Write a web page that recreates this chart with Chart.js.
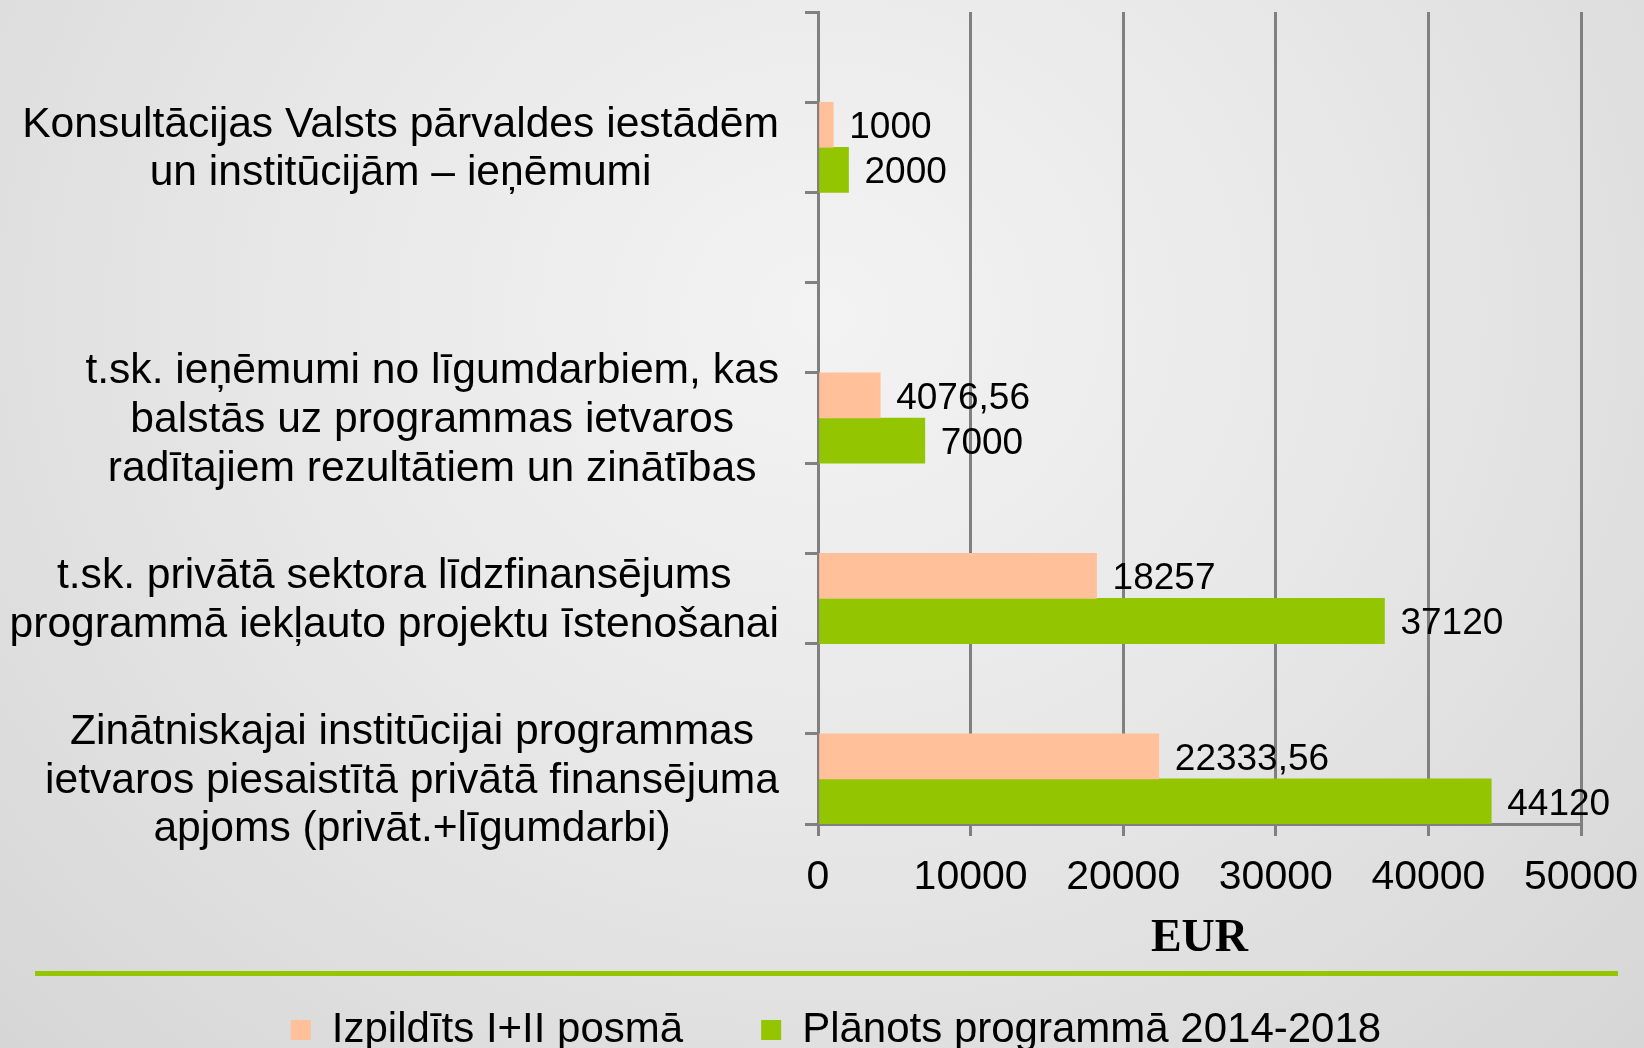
<!DOCTYPE html>
<html>
<head>
<meta charset="utf-8">
<script src="https://cdn.jsdelivr.net/npm/chart.js@4.4.1/dist/chart.umd.min.js"></script>
<style>
  html, body {
    margin: 0;
    padding: 0;
    width: 1644px;
    height: 1048px;
    overflow: hidden;
    background: radial-gradient(ellipse at 50% 30%, #f3f3f3 0%, #e8e8e8 45%, #d6d6d6 100%);
  }
  #chart {
    position: absolute;
    left: 0;
    top: 0;
  }
  #rule {
    position: absolute;
    left: 35px;
    top: 971px;
    width: 1583px;
    height: 5px;
    background: #93c500;
  }
</style>
</head>
<body>
<canvas id="chart" width="1644" height="1061"></canvas>
<div id="rule"></div>
<script>
// categories top to bottom (empty ones are the blank rows)
const categories = [
    [],
    ['Konsultācijas Valsts pārvaldes iestādēm', 'un institūcijām – ieņēmumi'],
    [],
    [],
    ['t.sk. ieņēmumi no līgumdarbiem, kas', 'balstās uz programmas ietvaros', 'radītajiem rezultātiem un zinātības'],
    [],
    ['t.sk. privātā sektora līdzfinansējums', 'programmā iekļauto projektu īstenošanai'],
    [],
    ['Zinātniskajai institūcijai programmas', 'ietvaros piesaistītā privātā finansējuma', 'apjoms (privāt.+līgumdarbi)'],
];

const seriesNames = ['Izpildīts I+II posmā', 'Plānots programmā 2014-2018'];
const done = [null, 1000, null, null, 4076.56, null, 18257, null, 22333.56];
const planned = [null, 2000, null, null, 7000, null, 37120, null, 44120];

const xTicks = [0, 10000, 20000, 30000, 40000, 50000];
const axisTitle = 'EUR';

const PEACH = '#ffc09a';
const GREEN = '#93c500';
const GRID = '#808080';
const FONT = '"Liberation Sans", Arial, sans-serif';

// category labels: each block centred line by line, block right-aligned to the axis
const categoryLabels = {
    id: 'categoryLabels',
    afterDraw(chart) {
        const ctx = chart.ctx;
        const y = chart.scales.y;
        const right = chart.chartArea.left - 39;
        const lh = 48.8;
        ctx.save();
        ctx.font = '42.6px ' + FONT;
        ctx.fillStyle = '#000';
        ctx.textAlign = 'center';
        ctx.textBaseline = 'middle';
        categories.forEach((lines, i) => {
            if (!lines.length) return;
            const w = Math.max(...lines.map(l => ctx.measureText(l).width));
            const cx = right - w / 2;
            const cy = y.getPixelForValue(i) + 2;
            lines.forEach((l, k) => {
                ctx.fillText(l, cx, cy + (k - (lines.length - 1) / 2) * lh);
            });
        });
        ctx.restore();
    }
};

// value labels at the end of each bar
const valueLabels = {
    id: 'valueLabels',
    afterDatasetsDraw(chart) {
        const ctx = chart.ctx;
        ctx.save();
        ctx.font = '37px ' + FONT;
        ctx.fillStyle = '#000';
        ctx.textAlign = 'left';
        ctx.textBaseline = 'middle';
        chart.data.datasets.forEach((ds, di) => {
            const meta = chart.getDatasetMeta(di);
            meta.data.forEach((bar, i) => {
                const v = ds.data[i];
                if (v === null) return;
                ctx.fillText(String(v).replace('.', ','), bar.x + 16, bar.y + 3);
            });
        });
        ctx.restore();
    }
};

new Chart(document.getElementById('chart'), {
    type: 'bar',
    data: {
        labels: categories.map((c, i) => c.length ? c : ' '.repeat(i + 1)),
        datasets: [
            { label: seriesNames[0], data: done, backgroundColor: PEACH },
            { label: seriesNames[1], data: planned, backgroundColor: GREEN },
        ],
    },
    options: {
        indexAxis: 'y',
        responsive: false,
        animation: false,
        categoryPercentage: 1,
        barPercentage: 1,
        layout: { padding: { left: 91, right: 63, top: 12, bottom: 0 } },
        scales: {
            x: {
                min: 0,
                max: 50000,
                afterBuildTicks: s => { s.ticks = xTicks.map(v => ({ value: v })); },
                afterFit: s => { s.height = 107; s.paddingRight = 0; },
                ticks: {
                    color: '#000',
                    padding: 17,
                    font: { family: FONT, size: 41 },
                    callback: v => String(v),
                },
                grid: { color: GRID, lineWidth: 3, tickLength: 12, drawTicks: true },
                border: { color: GRID, width: 3 },
                title: {
                    display: true,
                    text: axisTitle,
                    color: '#000',
                    font: { family: '"Liberation Serif", "Times New Roman", serif', size: 46, weight: 'bold', lineHeight: 0.5 },
                    padding: { top: 0, bottom: -19.5 },
                },
            },
            y: {
                afterFit: s => { s.width = 727; },
                ticks: { display: false },
                grid: { color: GRID, lineWidth: 3, tickLength: 13, drawOnChartArea: false, drawTicks: true, offset: true },
                border: { color: GRID, width: 3 },
            },
        },
        plugins: {
            legend: {
                position: 'bottom',
                labels: {
                    color: '#000',
                    boxWidth: 20,
                    boxHeight: 20,
                    padding: 78,
                    font: { family: FONT, size: 42 },
                },
            },
            tooltip: { enabled: false },
        },
    },
    plugins: [categoryLabels, valueLabels],
});
</script>
</body>
</html>
